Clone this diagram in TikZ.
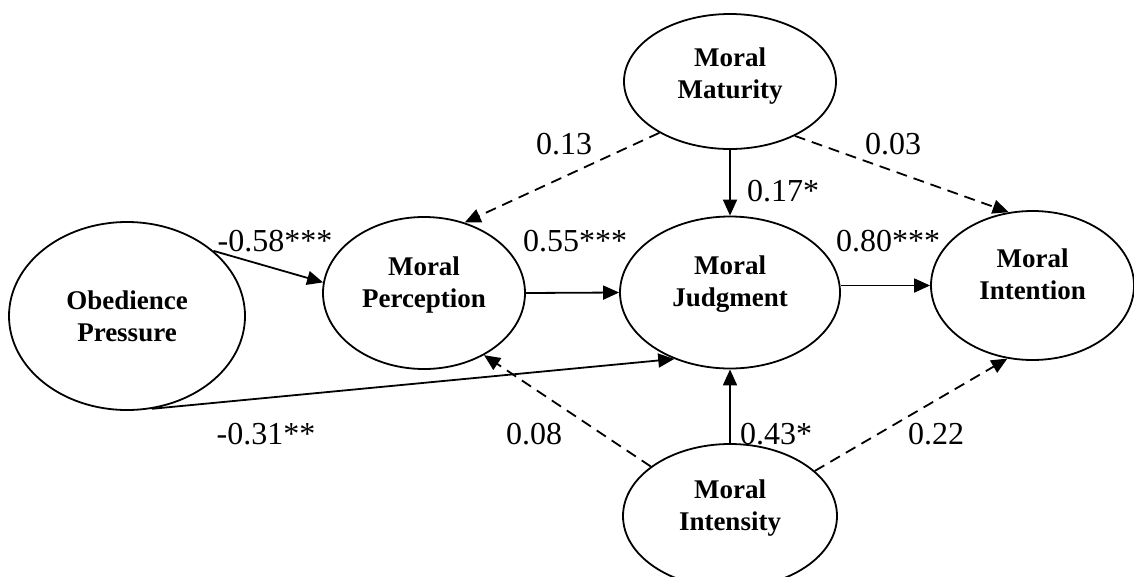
\documentclass[tikz,border=0pt]{standalone}
\usepackage{fontspec}
\setmainfont{Liberation Serif}
\usetikzlibrary{shapes.geometric,arrows.meta}

\tikzstyle{oval} = [draw, ellipse, line width=1.8pt, inner sep=0pt, align=center, font=\fontsize{27}{32}\selectfont\bfseries, text depth=22pt]
\tikzstyle{arw} = [-{Triangle[length=16pt,width=14pt]}, line width=1.8pt]
\tikzstyle{dsh} = [arw, dash pattern=on 11pt off 7pt]
\tikzstyle{lbl} = [inner sep=0pt, font=\fontsize{32}{32}\selectfont]

\begin{document}
\begin{tikzpicture}[x=1pt,y=-1pt]
\useasboundingbox (0,0) rectangle (1134,576);

% constructs
\node[oval, minimum width=236pt, minimum height=188pt, text depth=0pt] (obed) at (127,316) {Obedience\\Pressure};
\node[oval, minimum width=202pt, minimum height=152pt] (perc) at (424,293) {Moral\\Perception};
\node[oval, minimum width=220pt, minimum height=152pt] (judg) at (730,292.5) {Moral\\Judgment};
\node[oval, minimum width=203pt, minimum height=149pt] (intn) at (1032.5,285.5) {Moral\\Intention};
\node[oval, minimum width=212pt, minimum height=135pt, text depth=16pt] (matu) at (730,81.5) {Moral\\Maturity};
\node[oval, minimum width=214pt, minimum height=144pt] (inte) at (730,516) {Moral\\Intensity};

% paths
\draw[arw] (obed.37) -- (perc.174);
\draw[arw] (obed.-75) -- (judg.-130);
\draw[arw] (perc.east) -- (judg.west);
\draw[arw] (judg.east |- intn.west) -- (intn.west);
\draw[arw] (matu.south) -- (judg.north);
\draw[arw] (inte.north) -- (judg.south);
\draw[dsh] (matu.-144) -- (perc.60);
\draw[dsh] (matu.-40) -- (intn.108);
\draw[dsh] (inte.148) -- (perc.-46);
\draw[dsh] (inte.28) -- (intn.-109);

% coefficients
\node[lbl] (w58) at (275,241) {-0.58***};
\node[lbl] (w55) at (575,241) {0.55***};
\node[lbl] (w80) at (888,241) {0.80***};
\node[lbl] (w13) at (564,144) {0.13};
\node[lbl] (w03) at (893,144) {0.03};
\node[lbl] (w17) at (783,191) {0.17*};
\node[lbl] (w31) at (266,434) {-0.31**};
\node[lbl] (w08) at (534,434) {0.08};
\node[lbl] (w43) at (776,434) {0.43*};
\node[lbl] (w22) at (936,434) {0.22};

\end{tikzpicture}
\end{document}
